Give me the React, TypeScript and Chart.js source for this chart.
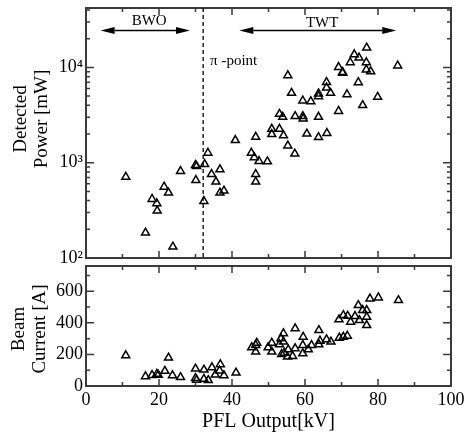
import React, { useEffect, useRef } from "react";
import { Chart, registerables } from "chart.js";

Chart.register(...registerables);

// ---------- data ----------
const powerX = [
  10.9, 16.3, 18.1, 19.4, 19.5, 21.4, 22.6, 23.8, 25.9, 30.0, 30.3, 30.1, 32.3, 32.5, 33.4, 34.4, 35.6, 36.7, 36.7, 37.8,
  40.9, 45.3, 46.1, 47.4, 46.5, 46.5, 46.5, 49.7,
  76.9, 73.5, 74.8, 72.4, 76.8, 69.2, 70.3, 70.3, 76.8, 78.0, 85.4, 55.3, 65.9, 65.9, 74.6, 56.3, 63.7, 63.7, 67.0, 71.5,
  59.4, 61.6, 79.9, 75.8, 69.2, 53.0, 53.9, 57.3, 59.4, 59.5, 63.7, 50.9, 53.0, 50.9, 54.1, 60.5, 63.7, 66.0, 55.3, 57.2,
];
const powerY = [
  710, 184, 415, 374, 313, 558, 483, 131, 815, 942, 920, 656, 395, 964, 1268, 759, 630, 849, 483, 507,
  1722, 1268, 1133, 1037, 1862, 759, 630, 1028,
  16070, 13670, 12640, 11270, 11270, 10070, 8930, 8720, 9470, 9080, 10420, 8240, 7010, 6120, 6970, 5380, 5310, 4970, 5380, 5210,
  4480, 4400, 4890, 4000, 3480, 3240, 3020, 3070, 3070, 2900, 3020, 2260, 2260, 1990, 1930, 2010, 1850, 2040, 1510, 1240,
];

const currentX = [
  10.9, 16.3, 18.1, 19.4, 19.8, 21.6, 22.6, 23.7, 25.9, 30.0, 30.0, 30.3, 32.3, 32.3, 33.5, 34.5, 35.4, 36.8, 36.6, 37.8,
  41.1, 45.4, 46.5, 46.5, 46.8, 49.9, 50.9, 50.9, 53.0, 53.4, 54.1, 54.1, 54.3, 55.2, 55.4, 56.6, 57.3, 57.3, 59.4, 59.4,
  59.5, 60.9, 61.8, 63.8, 63.8, 64.1, 65.9, 67.1, 69.4, 70.5, 71.6, 69.3, 70.5, 71.7, 72.5, 73.7, 74.6, 74.9, 75.8, 76.9,
  76.9, 76.9, 77.8, 80.1, 85.6, 53.6,
];
const currentY = [
  194, 61, 69, 76, 70, 95, 179, 67, 55, 109, 50, 38, 103, 44, 36, 118, 71, 137, 97, 67,
  84, 244, 259, 217, 273, 244, 273, 217, 263, 301, 333, 280, 210, 185, 231, 189, 364, 238, 206, 259,
  311, 231, 259, 353, 263, 286, 295, 280, 305, 311, 317, 421, 448, 444, 406, 442, 511, 416, 480, 480,
  437, 385, 553, 560, 543, 202,
];

// ---------- ticks & labels ----------
const xMajorTicks = [0, 20, 40, 60, 80, 100];
const xMinorTicks = [10, 30, 50, 70, 90];
const powerMajorTicks = [100, 1000, 10000];
const powerTickLabels = ["10²", "10³", "10⁴"];
const powerMinorTicks = [
  200, 300, 400, 500, 600, 700, 800, 900,
  2000, 3000, 4000, 5000, 6000, 7000, 8000, 9000,
  20000, 30000, 40000,
];
const currentMajorTicks = [0, 200, 400, 600];
const currentMinorTicks = [100, 300, 500, 700];
const powerAxisTitle = ["Detected", "Power [mW]"];
const currentAxisTitle = ["Beam", "Current [A]"];
const xAxisTitle = "PFL Output[kV]";

// ---------- annotations ----------
const bwoRange = [4, 28.5];
const twtRange = [42, 85];
const arrowLevel = 24400;
const bwoLabel = { text: "BWO", x: 17.3 };
const twtLabel = { text: "TWT", x: 64.7 };
const piPointX = 32.1;
const piLabel = { text: "π -point", x: 34.0, y: 10500 };

const FONT = "'Liberation Serif', 'Times New Roman', serif";
const FRAME = "#3a3a3a";

function frameTicks(xMaj: number[], xMin: number[], yMaj: number[], yMin: number[], title: string[], titleY: number, titleXs: number[]) {
  return {
    id: "frameTicks",
    afterDraw(chart: any) {
      const { ctx, chartArea: a, scales } = chart;
      const xs = scales.x;
      const ys = scales.y;
      ctx.save();
      ctx.strokeStyle = FRAME;
      ctx.lineWidth = 1.5;
      ctx.beginPath();
      const xt = (vals: number[], len: number) => {
        vals.forEach((v) => {
          const p = xs.getPixelForValue(v);
          ctx.moveTo(p, a.bottom);
          ctx.lineTo(p, a.bottom - len);
          ctx.moveTo(p, a.top);
          ctx.lineTo(p, a.top + len);
        });
      };
      const yt = (vals: number[], len: number) => {
        vals.forEach((v) => {
          const p = ys.getPixelForValue(v);
          ctx.moveTo(a.left, p);
          ctx.lineTo(a.left + len, p);
          ctx.moveTo(a.right, p);
          ctx.lineTo(a.right - len, p);
        });
      };
      xt(xMaj, 7);
      xt(xMin, 4);
      yt(yMaj, 8);
      yt(yMin, 4);
      ctx.stroke();
      ctx.lineWidth = 2;
      ctx.strokeRect(a.left, a.top, a.right - a.left, a.bottom - a.top);
      // y-axis title (two lines, rotated)
      ctx.fillStyle = "#000";
      ctx.font = `19px ${FONT}`;
      ctx.textAlign = "center";
      ctx.textBaseline = "middle";
      title.forEach((t, i) => {
        ctx.save();
        ctx.translate(titleXs[i], titleY);
        ctx.rotate(-Math.PI / 2);
        ctx.fillText(t, 0, 0);
        ctx.restore();
      });
      ctx.restore();
    },
  };
}

const annotations = {
  id: "annotations",
  afterDraw(chart: any) {
    const { ctx, chartArea: a, scales } = chart;
    const xs = scales.x;
    const ys = scales.y;
    ctx.save();
    // pi-point dashed line
    const px = xs.getPixelForValue(piPointX);
    ctx.strokeStyle = "#000";
    ctx.lineWidth = 1.3;
    ctx.setLineDash([4, 3]);
    ctx.beginPath();
    ctx.moveTo(px, a.top);
    ctx.lineTo(px, a.bottom);
    ctx.stroke();
    ctx.setLineDash([]);
    // arrows
    const ay = ys.getPixelForValue(arrowLevel);
    const head = 14;
    const hw = 3.5;
    const arrow = (r: number[]) => {
      const x1 = xs.getPixelForValue(r[0]);
      const x2 = xs.getPixelForValue(r[1]);
      ctx.lineWidth = 1.3;
      ctx.beginPath();
      ctx.moveTo(x1 + head, ay);
      ctx.lineTo(x2 - head, ay);
      ctx.stroke();
      ctx.fillStyle = "#000";
      ctx.beginPath();
      ctx.moveTo(x1, ay);
      ctx.lineTo(x1 + head, ay - hw);
      ctx.lineTo(x1 + head, ay + hw);
      ctx.closePath();
      ctx.fill();
      ctx.beginPath();
      ctx.moveTo(x2, ay);
      ctx.lineTo(x2 - head, ay - hw);
      ctx.lineTo(x2 - head, ay + hw);
      ctx.closePath();
      ctx.fill();
    };
    arrow(bwoRange);
    arrow(twtRange);
    ctx.fillStyle = "#000";
    ctx.font = `15px ${FONT}`;
    ctx.textAlign = "center";
    ctx.textBaseline = "alphabetic";
    ctx.fillText(bwoLabel.text, xs.getPixelForValue(bwoLabel.x), ay - 5);
    ctx.fillText(twtLabel.text, xs.getPixelForValue(twtLabel.x), ay - 3);
    ctx.textAlign = "left";
    ctx.fillText(piLabel.text, xs.getPixelForValue(piLabel.x), ys.getPixelForValue(piLabel.y));
    ctx.restore();
  },
};

const pointStyle = {
  pointStyle: "triangle" as const,
  radius: 4.6,
  borderWidth: 1.5,
  borderColor: "#000",
  backgroundColor: "rgba(0,0,0,0)",
};

const tickFont = { family: FONT, size: 18 };

export default function App() {
  const topRef = useRef<HTMLCanvasElement>(null);
  const botRef = useRef<HTMLCanvasElement>(null);

  useEffect(() => {
    const top = new Chart(topRef.current!, {
      type: "scatter",
      data: {
        datasets: [{ data: powerX.map((x, i) => ({ x, y: powerY[i] })), ...pointStyle }],
      },
      options: {
        animation: false,
        responsive: false,
        events: [],
        layout: { padding: { top: 8, right: 14, left: 0, bottom: 0 } },
        plugins: { legend: { display: false }, tooltip: { enabled: false } },
        scales: {
          x: {
            type: "linear",
            min: 0,
            max: 100,
            ticks: { display: false },
            grid: { display: false, drawTicks: false },
            border: { display: false },
            afterFit: (s: any) => {
              s.height = 178;
              s.paddingLeft = 0;
              s.paddingRight = 0;
            },
          },
          y: {
            type: "logarithmic",
            min: 100,
            max: 42000,
            afterBuildTicks: (s: any) => {
              s.ticks = powerMajorTicks.map((value) => ({ value }));
            },
            ticks: {
              autoSkip: false,
              padding: 3,
              color: "#000",
              font: tickFont,
              callback: (_v: any, i: number) => powerTickLabels[i],
            },
            grid: { display: false, drawTicks: false },
            border: { display: false },
            afterFit: (s: any) => {
              s.width = 86;
              s.paddingTop = 0;
              s.paddingBottom = 0;
            },
          },
        },
      },
      plugins: [frameTicks(xMajorTicks, xMinorTicks, powerMajorTicks, powerMinorTicks, powerAxisTitle, 119, [21, 42]), annotations],
    });

    const bot = new Chart(botRef.current!, {
      type: "scatter",
      data: {
        datasets: [{ data: currentX.map((x, i) => ({ x, y: currentY[i] })), ...pointStyle }],
      },
      options: {
        animation: false,
        responsive: false,
        events: [],
        layout: { padding: { top: 266, right: 14, left: 0, bottom: 0 } },
        plugins: { legend: { display: false }, tooltip: { enabled: false } },
        scales: {
          x: {
            type: "linear",
            min: 0,
            max: 100,
            afterBuildTicks: (s: any) => {
              s.ticks = xMajorTicks.map((value) => ({ value }));
            },
            ticks: { autoSkip: false, padding: 3, color: "#000", font: tickFont, maxRotation: 0 },
            grid: { display: false, drawTicks: false },
            border: { display: false },
            title: {
              display: true,
              text: xAxisTitle,
              color: "#000",
              font: { family: FONT, size: 20 },
              padding: { top: 0, bottom: 2 },
            },
            afterFit: (s: any) => {
              s.height = 50;
              s.paddingLeft = 0;
              s.paddingRight = 0;
            },
          },
          y: {
            type: "linear",
            min: 0,
            max: 760,
            afterBuildTicks: (s: any) => {
              s.ticks = currentMajorTicks.map((value) => ({ value }));
            },
            ticks: { autoSkip: false, padding: 3, color: "#000", font: tickFont },
            grid: { display: false, drawTicks: false },
            border: { display: false },
            afterFit: (s: any) => {
              s.width = 86;
              s.paddingTop = 0;
              s.paddingBottom = 0;
            },
          },
        },
      },
      plugins: [frameTicks(xMajorTicks, xMinorTicks, currentMajorTicks, currentMinorTicks, currentAxisTitle, 329, [19, 40])],
    });

    return () => {
      top.destroy();
      bot.destroy();
    };
  }, []);

  const cs: React.CSSProperties = { position: "absolute", left: 0, top: 0, width: 465, height: 436 };
  return (
    <div style={{ position: "absolute", left: 0, top: 0, width: 465, height: 436, background: "#fff" }}>
      <canvas ref={topRef} width={465} height={436} style={cs} />
      <canvas ref={botRef} width={465} height={436} style={cs} />
    </div>
  );
}
